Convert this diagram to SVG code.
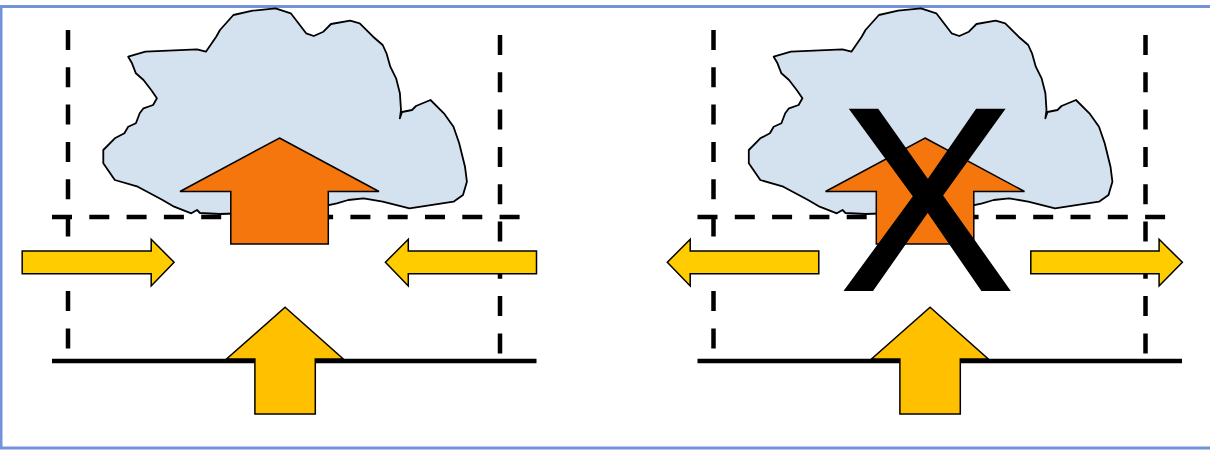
<svg xmlns="http://www.w3.org/2000/svg" xmlns:xlink="http://www.w3.org/1999/xlink" width="1210" height="450" viewBox="0 0 1210 450">
  <style>
    .frame { fill: none; stroke: #7492da; stroke-width: 3; }
    .dash { fill: none; stroke: #000; stroke-width: 4.5; stroke-dasharray: 20 17.3; }
    .ground { fill: none; stroke: #000; stroke-width: 4.5; }
    .cloud { fill: #d4e2f0; stroke: #000; stroke-width: 1.8; stroke-linejoin: round; }
    .updraft { fill: #f4760c; stroke: #000; stroke-width: 1.5; }
    .inflow { fill: #ffcc00; stroke: #000; stroke-width: 1.5; }
    .lift { fill: #ffc000; stroke: #000; stroke-width: 1.5; }
    .cross { font-family: "Liberation Sans", Arial, sans-serif; font-size: 262px; fill: #000; stroke: #000; stroke-width: 2; }
  </style>
  <defs>
    <!-- cumulus cloud outline -->
    <path id="cloudShape" d="M128.2,56.7 L145.4,51.7 L197,49.3 L205.9,51.7 L216.2,36.7 L220,30 L233.4,15 L252.6,10.7 L275.5,8.3 L290.8,13.3 L306.1,33.3 L313.8,36 L323.4,31.7 L331,24 L350.2,20.7 L359.7,23.3 L373.1,36.7 L382.7,45 L386.5,53.3 L390.3,66.7 L396.1,78.3 L399.9,93.3 L401,110 L399.9,118.3 L402,112 L412,110 L416,106 L430.5,100 L443.9,113.3 L453.5,126.7 L459.2,143.3 L465,166.7 L466.9,181.7 L463,195 L453.5,201.7 L409.5,208.3 L382.7,201.7 L363.6,198.3 L348.2,200 L336.8,203.3 L320,207 L290,211 L250,213 L220,214 L200,213 L197,210 L191.3,213.3 L174.1,206.7 L162.6,200 L137.8,186.7 L114.8,180 L103.3,163.3 L103.3,150 L114.8,138.3 L124.4,133.3 L128.2,126.7 L135.9,123.3 L139.7,113.3 L143.5,108.3 L153.1,105 L156.9,98.3 L151.2,90 L143.5,80 L135.9,73.3 L132,63.3 Z"/>
    <!-- warm rising air inside the cloud -->
    <path id="updraftShape" d="M279.5,138 L379,191.5 L328.3,191.5 L328.3,244 L230.8,244 L230.8,191.5 L180,191.5 Z"/>
    <!-- surface heating arrow -->
    <path id="liftShape" d="M285.1,307.3 L343.3,359 L315.3,359 L315.3,414 L254.9,414 L254.9,359 L226.5,359 Z"/>
    <!-- column boundary: sides, top and ground -->
    <g id="column">
      <line class="dash" x1="68" y1="30" x2="68" y2="350"/>
      <line class="dash" x1="500" y1="35" x2="500" y2="355"/>
      <line class="dash" x1="52" y1="217" x2="520" y2="217"/>
      <line class="ground" x1="52" y1="361" x2="536.5" y2="361"/>
    </g>
  </defs>

  <!-- outer frame -->
  <rect class="frame" x="1" y="6.5" width="1215" height="441.5"/>

  <!-- converging inflow: cloud grows -->
  <g id="panel-converge">
    <use xlink:href="#column"/>
    <use xlink:href="#cloudShape" class="cloud"/>
    <use xlink:href="#updraftShape" class="updraft"/>
    <g id="arrows-converge">
      <path class="inflow" d="M22.2,251 L151.2,251 L151.2,239.3 L174.1,262.3 L151.2,286 L151.2,273.7 L22.2,273.7 Z"/>
      <path class="inflow" d="M536.5,251 L408.3,251 L408.3,239.3 L385.4,262.3 L408.3,286 L408.3,273.7 L536.5,273.7 Z"/>
      <use xlink:href="#liftShape" class="lift"/>
    </g>
  </g>

  <!-- diverging outflow: updraft suppressed -->
  <g id="panel-diverge">
    <g transform="translate(645.5,0)">
      <use xlink:href="#column"/>
      <use xlink:href="#cloudShape" class="cloud"/>
      <use xlink:href="#updraftShape" class="updraft"/>
    </g>
    <g id="arrows-diverge">
      <path class="inflow" d="M818.8,251 L690.2,251 L690.2,239.3 L667.3,262.3 L690.2,286 L690.2,273.7 L818.8,273.7 Z"/>
      <path class="inflow" d="M1030.8,251 L1159.1,251 L1159.1,239.3 L1182.4,262.3 L1159.1,286 L1159.1,273.7 L1030.8,273.7 Z"/>
      <use xlink:href="#liftShape" class="lift" transform="translate(645,0)"/>
    </g>
    <text class="cross" x="927" y="290" text-anchor="middle">X</text>
  </g>
</svg>
